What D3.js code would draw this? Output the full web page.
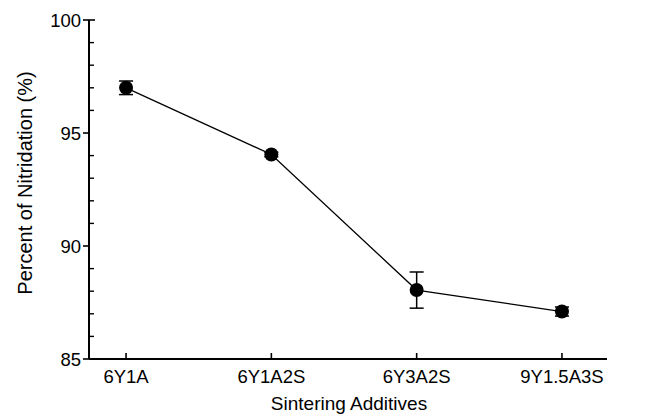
<!DOCTYPE html>
<html>
<head>
<meta charset="utf-8">
<script src="https://cdn.jsdelivr.net/npm/d3@7"></script>
<style>
  body { margin: 0; background: #fff; }
  text { font-family: "Liberation Sans", Arial, sans-serif; fill: #000; }
</style>
</head>
<body>
<svg id="chart" width="664" height="418"></svg>
<script>
const categories = ['6Y1A', '6Y1A2S', '6Y3A2S', '9Y1.5A3S'];
const nitridation = [97.0, 94.05, 88.05, 87.1];
const errors = [0.3, 0.1, 0.8, 0.2];
const yTicks = [85, 90, 95, 100];

const svg = d3.select('#chart');

const x = d3.scaleLinear().domain([-0.255, 3.31]).range([89, 607]);
const y = d3.scaleLinear().domain([85, 100]).range([359, 20]);

// y axis: major ticks outward, minor ticks inward
const yAxis = svg.append('g').attr('transform', 'translate(89,0)');
yAxis.append('line')
    .attr('y1', y(85)).attr('y2', y(100))
    .attr('stroke', '#000').attr('stroke-width', 2);
yAxis.selectAll('.major').data(yTicks).enter().append('line')
    .attr('x1', -6).attr('x2', 0)
    .attr('y1', d => y(d)).attr('y2', d => y(d))
    .attr('stroke', '#000').attr('stroke-width', 1.6);
yAxis.append('line')
    .attr('x1', 0).attr('x2', 6)
    .attr('y1', y(100)).attr('y2', y(100))
    .attr('stroke', '#000').attr('stroke-width', 1.6);
yAxis.selectAll('.minor').data(d3.range(86, 100).filter(v => v % 5 !== 0)).enter().append('line')
    .attr('x1', 0).attr('x2', 5)
    .attr('y1', d => y(d)).attr('y2', d => y(d))
    .attr('stroke', '#000').attr('stroke-width', 1.4);
yAxis.selectAll('.lab').data(yTicks).enter().append('text')
    .attr('x', -8).attr('y', d => y(d))
    .attr('dy', '0.36em')
    .attr('text-anchor', 'end')
    .style('font-size', '18.5px')
    .text(d => d);

// x axis: category ticks inward
const xAxis = svg.append('g').attr('transform', `translate(0,${y(85)})`);
xAxis.append('line')
    .attr('x1', 89).attr('x2', 607)
    .attr('stroke', '#000').attr('stroke-width', 2);
xAxis.selectAll('.tick').data(categories).enter().append('line')
    .attr('x1', (d, i) => x(i)).attr('x2', (d, i) => x(i))
    .attr('y1', 0).attr('y2', -6)
    .attr('stroke', '#000').attr('stroke-width', 1.6);
xAxis.selectAll('.lab').data(categories).enter().append('text')
    .attr('x', (d, i) => x(i)).attr('y', 24)
    .attr('text-anchor', 'middle')
    .style('font-size', '18.5px')
    .text(d => d);

svg.append('text')
    .attr('x', 349).attr('y', 410)
    .attr('text-anchor', 'middle')
    .style('font-size', '19px')
    .text('Sintering Additives');

svg.append('text')
    .attr('transform', 'translate(32,183) rotate(-90)')
    .attr('text-anchor', 'middle')
    .style('font-size', '20px')
    .text('Percent of Nitridation (%)');

// data line
const line = d3.line()
    .x((d, i) => x(i))
    .y(d => y(d));
svg.append('path')
    .datum(nitridation)
    .attr('d', line)
    .attr('fill', 'none')
    .attr('stroke', '#000')
    .attr('stroke-width', 1.3);

// error bars
const err = svg.append('g').selectAll('g').data(nitridation).enter().append('g');
err.append('line')
    .attr('x1', (d, i) => x(i)).attr('x2', (d, i) => x(i))
    .attr('y1', (d, i) => y(d - errors[i])).attr('y2', (d, i) => y(d + errors[i]))
    .attr('stroke', '#000').attr('stroke-width', 1.5);
err.append('line')
    .attr('x1', (d, i) => x(i) - 7).attr('x2', (d, i) => x(i) + 7)
    .attr('y1', (d, i) => y(d + errors[i])).attr('y2', (d, i) => y(d + errors[i]))
    .attr('stroke', '#000').attr('stroke-width', 1.5);
err.append('line')
    .attr('x1', (d, i) => x(i) - 7).attr('x2', (d, i) => x(i) + 7)
    .attr('y1', (d, i) => y(d - errors[i])).attr('y2', (d, i) => y(d - errors[i]))
    .attr('stroke', '#000').attr('stroke-width', 1.5);

svg.append('g').selectAll('circle').data(nitridation).enter().append('circle')
    .attr('cx', (d, i) => x(i))
    .attr('cy', d => y(d))
    .attr('r', 7)
    .attr('fill', '#000');
</script>
</body>
</html>
